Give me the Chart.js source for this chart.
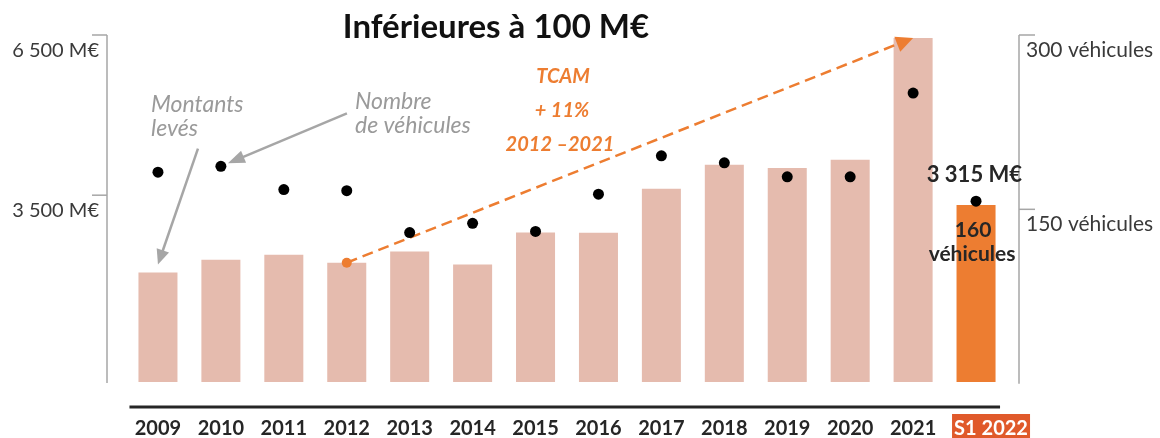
<!DOCTYPE html>
<html lang="fr">
<head>
<meta charset="utf-8">
<title>Inférieures à 100 M€</title>
<script src="https://cdn.jsdelivr.net/npm/chart.js@4"></script>
<style>
  html, body { margin: 0; padding: 0; background: #fff; }
  #wrap { width: 1160px; height: 438px; position: relative; }
</style>
</head>
<body>
<div id="wrap"><canvas id="chart"></canvas></div>
<script>
// Données
const categories = ['2009', '2010', '2011', '2012', '2013', '2014', '2015',
    '2016', '2017', '2018', '2019', '2020', '2021', 'S1 2022'];
const montants = [2050, 2290, 2385, 2235, 2445, 2200, 2800,
    2795, 3620, 4070, 4010, 4165, 6445, 3315];
const vehicules = [182, 187, 167, 166, 130, 138, 131,
    163, 196, 190, 178, 178, 250, 157];
// tendance TCAM 2012 -> 2021 (sommets des barres)
const tendance = [null, null, null, 2235, null, null, null,
    null, null, null, null, null, 6445, null];
const leftTicks = [3500, 6500];
const leftTickLabels = ['3 500 M€', '6 500 M€'];
const rightTicks = [150, 300];
const rightTickLabels = ['150 véhicules', '300 véhicules'];

const ORANGE = '#ED7D31';
const ROSE = '#E5BBAE';
const GRIS = '#A6A6A6';
const TEXTE = '#262626';
const FONT = 'Lato, "Noto Sans", sans-serif';

function arrowHead(ctx, fromX, fromY, tipX, tipY, len, width, color) {
    const a = Math.atan2(tipY - fromY, tipX - fromX);
    const bx = tipX - len * Math.cos(a);
    const by = tipY - len * Math.sin(a);
    const nx = -Math.sin(a) * width / 2;
    const ny = Math.cos(a) * width / 2;
    ctx.beginPath();
    ctx.moveTo(tipX, tipY);
    ctx.lineTo(bx + nx, by + ny);
    ctx.lineTo(bx - nx, by - ny);
    ctx.closePath();
    ctx.fillStyle = color;
    ctx.fill();
}

// axes, titre et annotations
const decorPlugin = {
    id: 'decor',
    afterDraw(chart) {
        const ctx = chart.ctx;
        const area = chart.chartArea;
        const x = chart.scales.x;
        const yL = chart.scales.y;
        const yR = chart.scales.y2;
        const n = categories.length;
        ctx.save();

        // axe horizontal
        ctx.strokeStyle = TEXTE;
        ctx.lineWidth = 3;
        ctx.beginPath();
        ctx.moveTo(x.getPixelForValue(0) - 28.5, area.bottom);
        ctx.lineTo(x.getPixelForValue(n - 1) + 24, area.bottom);
        ctx.stroke();

        // axe gauche
        const lx = area.left - 19.5;
        ctx.strokeStyle = GRIS;
        ctx.lineWidth = 1.5;
        ctx.beginPath();
        ctx.moveTo(lx, yL.getPixelForValue(6500));
        ctx.lineTo(lx, yL.getPixelForValue(0) + 1);
        ctx.stroke();
        ctx.font = '20px ' + FONT;
        ctx.fillStyle = '#3a3a3a';
        ctx.textAlign = 'right';
        ctx.textBaseline = 'alphabetic';
        leftTicks.forEach((v, i) => {
            const py = yL.getPixelForValue(v);
            ctx.beginPath();
            ctx.moveTo(lx - 15, py);
            ctx.lineTo(lx, py);
            ctx.stroke();
            ctx.fillText(leftTickLabels[i], lx - 8, py + 21.5);
        });

        // axe droit
        const rx = area.right + 11.5;
        ctx.beginPath();
        ctx.moveTo(rx, yR.getPixelForValue(300));
        ctx.lineTo(rx, yR.getPixelForValue(0));
        ctx.stroke();
        ctx.font = '21px ' + FONT;
        ctx.textAlign = 'left';
        rightTicks.forEach((v, i) => {
            const py = yR.getPixelForValue(v);
            ctx.beginPath();
            ctx.moveTo(rx, py);
            ctx.lineTo(rx + 16, py);
            ctx.stroke();
            ctx.fillText(rightTickLabels[i], rx + 7, py + 21.5);
        });

        // titre
        ctx.fillStyle = '#111';
        ctx.font = 'bold 33px ' + FONT;
        ctx.textAlign = 'center';
        ctx.fillText('Inférieures à 100 M€', 496, 38);

        // TCAM
        ctx.fillStyle = ORANGE;
        ctx.font = 'italic bold 20px ' + FONT;
        ctx.fillText('TCAM', 563, 83);
        ctx.fillText('+ 11%', 562, 117);
        ctx.fillText('2012 –2021', 560, 151);

        // flèche pointillée : pointe au sommet 2021
        const last = n - 2;
        const tx = x.getPixelForValue(last);
        const ty = yL.getPixelForValue(tendance[last]);
        arrowHead(ctx, x.getPixelForValue(3), yL.getPixelForValue(tendance[3]),
            tx, ty, 17, 16, ORANGE);

        // annotations grises
        ctx.fillStyle = '#9a9a9a';
        ctx.font = 'italic 23px ' + FONT;
        ctx.textAlign = 'left';
        ctx.fillText('Montants', 151, 112);
        ctx.fillText('levés', 151, 136);
        ctx.fillText('Nombre', 355, 109);
        ctx.fillText('de véhicules', 355, 133);

        ctx.strokeStyle = GRIS;
        ctx.lineWidth = 2.5;
        const t1x = x.getPixelForValue(0), t1y = yL.getPixelForValue(montants[0]) - 8;
        const s1x = t1x + 40, s1y = t1y - 116;
        ctx.beginPath();
        ctx.moveTo(s1x, s1y);
        ctx.lineTo(t1x + (s1x - t1x) * 0.1, t1y + (s1y - t1y) * 0.1);
        ctx.stroke();
        arrowHead(ctx, s1x, s1y, t1x, t1y, 15, 13, GRIS);

        const t2x = x.getPixelForValue(1) + 7, t2y = yR.getPixelForValue(vehicules[1]) - 3;
        const s2x = t2x + 119, s2y = t2y - 50;
        ctx.beginPath();
        ctx.moveTo(s2x, s2y);
        ctx.lineTo(t2x + (s2x - t2x) * 0.1, t2y + (s2y - t2y) * 0.1);
        ctx.stroke();
        arrowHead(ctx, s2x, s2y, t2x, t2y, 17, 13, GRIS);

        // valeurs S1 2022
        const sx = x.getPixelForValue(n - 1);
        ctx.fillStyle = TEXTE;
        ctx.font = 'bold 22px ' + FONT;
        ctx.textAlign = 'right';
        ctx.fillText(montants[n - 1].toLocaleString('fr-FR').replace(/\s/g, ' ') + ' M€', sx + 46, 182);
        ctx.font = 'bold 21px ' + FONT;
        ctx.textAlign = 'center';
        ctx.fillText('160', sx - 3, 237);
        ctx.fillText('véhicules', sx - 4, 261);

        // étiquette S1 2022 sur fond orange
        const lbx = sx + 15;
        ctx.fillStyle = '#E0592A';
        ctx.fillRect(lbx - 39, area.bottom + 7, 78, 26);
        ctx.fillStyle = '#fff';
        ctx.font = 'bold 20px ' + FONT;
        ctx.fillText(categories[n - 1], lbx, 435);

        ctx.restore();
    }
};

const ctx = document.getElementById('chart').getContext('2d');
new Chart(ctx, {
    data: {
        labels: categories,
        datasets: [
            {
                type: 'line',
                label: 'Nombre de véhicules',
                data: vehicules,
                yAxisID: 'y2',
                showLine: false,
                pointRadius: 5.5,
                pointBackgroundColor: '#000',
                pointBorderWidth: 0,
                order: 1
            },
            {
                type: 'line',
                label: 'TCAM',
                data: tendance,
                yAxisID: 'y',
                spanGaps: true,
                borderColor: ORANGE,
                borderWidth: 2.5,
                borderDash: [11, 6],
                pointRadius: (c) => c.dataIndex === 3 ? 5 : 0,
                pointBackgroundColor: ORANGE,
                pointBorderWidth: 0,
                order: 2
            },
            {
                type: 'bar',
                label: 'Montants levés',
                data: montants,
                yAxisID: 'y',
                backgroundColor: montants.map((v, i) => i === montants.length - 1 ? ORANGE : ROSE),
                barPercentage: 0.62,
                categoryPercentage: 1.0,
                order: 3
            }
        ]
    },
    options: {
        responsive: true,
        maintainAspectRatio: false,
        animation: false,
        layout: {
            padding: { left: 126.5, right: 152.5, top: 35, bottom: 0 }
        },
        plugins: {
            legend: { display: false },
            tooltip: { enabled: false }
        },
        scales: {
            x: {
                type: 'category',
                offset: true,
                grid: { display: false, drawTicks: false },
                border: { display: false },
                ticks: {
                    autoSkip: false,
                    maxRotation: 0,
                    minRotation: 0,
                    padding: 10,
                    color: (c) => c.index === categories.length - 1 ? 'rgba(0,0,0,0)' : TEXTE,
                    font: { family: FONT, size: 20, weight: 'bold' }
                },
                afterFit(scale) { scale.height = 31; }
            },
            y: {
                display: false,
                min: -467,
                max: 6500
            },
            y2: {
                display: false,
                min: -20.1,
                max: 300
            }
        }
    },
    plugins: [decorPlugin]
});
</script>
</body>
</html>
